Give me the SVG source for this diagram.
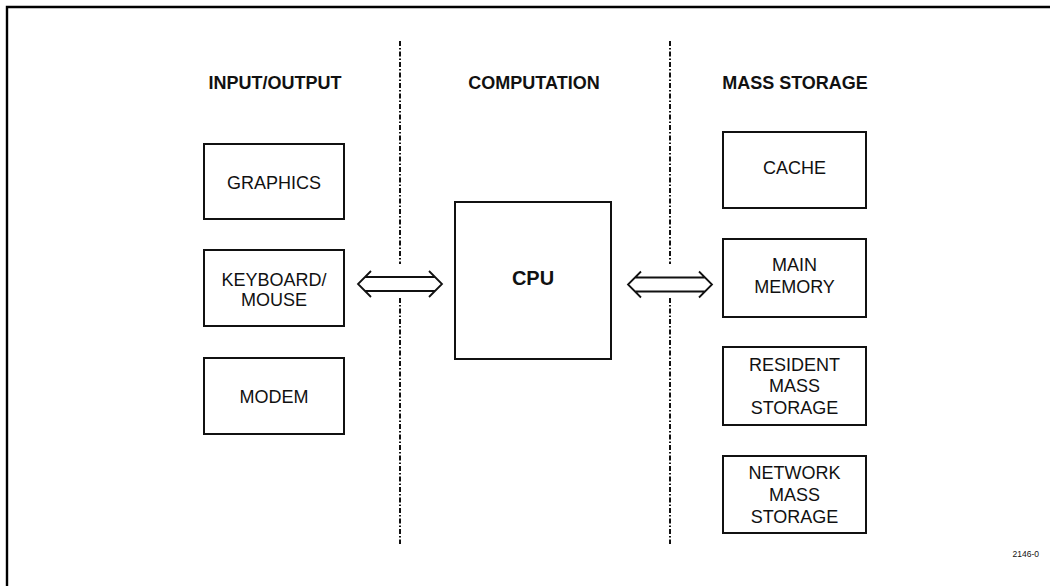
<svg xmlns="http://www.w3.org/2000/svg" width="1050" height="586" viewBox="0 0 1050 586">
<style>
  .box { fill: #fff; stroke: #111; stroke-width: 2; }
  .t { font-family: "Liberation Sans", Arial, sans-serif; font-size: 18px; fill: #111; text-anchor: middle; }
  .h { font-family: "Liberation Sans", Arial, sans-serif; font-size: 18px; font-weight: bold; fill: #111; text-anchor: middle; }
  .div { stroke: #111; stroke-width: 2; stroke-dasharray: 5 2 1.5 2; fill: none; }
  .arr { stroke: #111; stroke-width: 1.8; fill: none; stroke-linejoin: miter; }
</style>
<rect width="1050" height="586" fill="#fff"/>
<path d="M7,586 V7 H1050" fill="none" stroke="#000" stroke-width="2.4"/>

<g id="dividers">
  <line class="div" x1="400" y1="41" x2="400" y2="264"/>
  <line class="div" x1="400" y1="298" x2="400" y2="544"/>
  <line class="div" x1="670" y1="41" x2="670" y2="264"/>
  <line class="div" x1="670" y1="298" x2="670" y2="544"/>
</g>

<g id="headers">
  <text class="h" x="275" y="89">INPUT/OUTPUT</text>
  <text class="h" x="534" y="89">COMPUTATION</text>
  <text class="h" x="795" y="89">MASS STORAGE</text>
</g>

<g id="graphics">
  <rect class="box" x="204" y="144" width="140" height="75"/>
  <text class="t" x="274" y="189">GRAPHICS</text>
</g>
<g id="keyboard-mouse">
  <rect class="box" x="204" y="250" width="140" height="76"/>
  <text class="t" x="274" y="285.5">KEYBOARD/</text>
  <text class="t" x="274" y="305.5">MOUSE</text>
</g>
<g id="modem">
  <rect class="box" x="204" y="358" width="140" height="76"/>
  <text class="t" x="274" y="403">MODEM</text>
</g>
<g id="cpu">
  <rect class="box" x="455" y="202" width="156" height="157"/>
  <text class="h" x="533" y="285" style="font-size:20px">CPU</text>
</g>
<g id="cache">
  <rect class="box" x="723" y="132" width="143" height="76"/>
  <text class="t" x="794.5" y="174">CACHE</text>
</g>
<g id="main-memory">
  <rect class="box" x="723" y="239" width="143" height="78"/>
  <text class="t" x="794.5" y="271">MAIN</text>
  <text class="t" x="794.5" y="292.5">MEMORY</text>
</g>
<g id="resident-mass-storage">
  <rect class="box" x="723" y="347" width="143" height="78"/>
  <text class="t" x="794.5" y="370.5">RESIDENT</text>
  <text class="t" x="794.5" y="392.2">MASS</text>
  <text class="t" x="794.5" y="414">STORAGE</text>
</g>
<g id="network-mass-storage">
  <rect class="box" x="723" y="456" width="143" height="77"/>
  <text class="t" x="794.5" y="479">NETWORK</text>
  <text class="t" x="794.5" y="500.7">MASS</text>
  <text class="t" x="794.5" y="522.5">STORAGE</text>
</g>

<g id="connectors">
  <g id="arrow-io-cpu">
    <path class="arr" d="M371,271 L358,284 L371,297 M429,271 L442,284 L429,297 M365,277 H435 M365,291 H435"/>
  </g>
  <g id="arrow-cpu-storage" transform="translate(270,0.5)">
    <path class="arr" d="M371,271 L358,284 L371,297 M429,271 L442,284 L429,297 M365,277 H435 M365,291 H435"/>
  </g>
</g>

<text x="1039" y="556.5" style="font-family:'Liberation Sans',Arial,sans-serif;font-size:8.5px;fill:#111;text-anchor:end">2146-0</text>
</svg>
